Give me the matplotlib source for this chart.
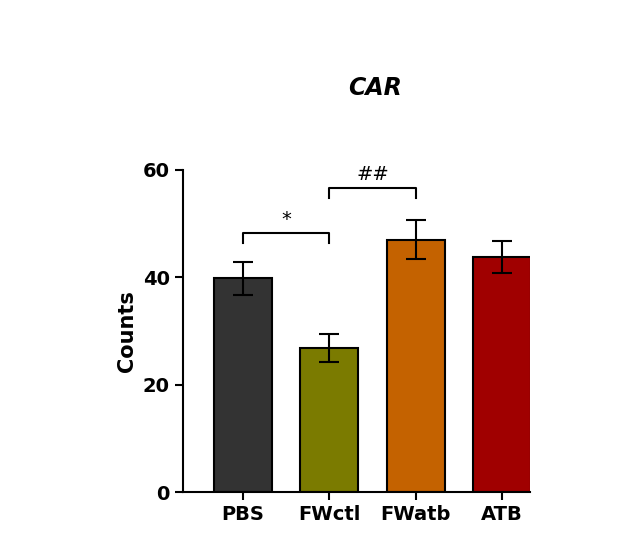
import matplotlib
matplotlib.use("Agg")
import matplotlib.pyplot as plt

groups = ["PBS", "FWctl", "FWatb", "ATB"]
means = [39.8, 26.9, 47.0, 43.8]
errs = [3.1, 2.6, 3.6, 3.0]
colors = ["#333333", "#7b7b00", "#c46200", "#a00000"]

fig = plt.figure(figsize=(6.22, 5.48), dpi=100)
ax = fig.add_axes([0.294, 0.102, 0.558, 0.588])

x = range(len(groups))
ax.bar(x, means, width=0.67, color=colors, edgecolor="black", linewidth=1.5,
       yerr=errs, capsize=7, error_kw=dict(elinewidth=1.5, capthick=1.5), zorder=2)

ax.set_xlim(-0.69, 3.32)
ax.set_ylim(0, 60)
ax.set_yticks([0, 20, 40, 60])
ax.set_xticks(list(x))
ax.set_xticklabels(groups, fontsize=14, fontweight="bold")
ax.tick_params(axis="y", labelsize=14, width=1.5, length=6)
ax.tick_params(axis="x", width=1.5, length=6)
for lab in ax.get_yticklabels():
    lab.set_fontweight("bold")
ax.set_ylabel("Counts", fontsize=15, fontweight="bold")
ax.spines["top"].set_visible(False)
ax.spines["right"].set_visible(False)
ax.spines["left"].set_linewidth(1.5)
ax.spines["bottom"].set_linewidth(1.5)

def bracket(x1, x2, y, text):
    ax.plot([x1, x1, x2, x2], [y - 1.8, y, y, y - 1.8], color="black", lw=1.5, clip_on=False)
    ax.text((x1 + x2) / 2, y + 0.8, text, ha="center", va="bottom", fontsize=14)

bracket(0, 1, 48.2, "*")
bracket(1, 2, 56.6, "##")

fig.text(0.603, 0.84, "CAR", ha="center", va="center", fontsize=17,
         fontweight="bold", fontstyle="italic")

fig.savefig("out.png", dpi=100)
